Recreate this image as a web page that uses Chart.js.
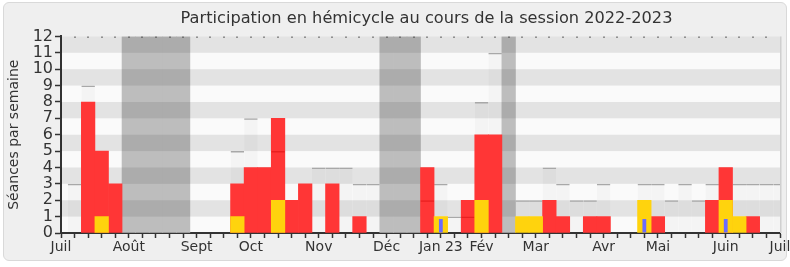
<!DOCTYPE html>
<html>
<head>
<meta charset="utf-8">
<script src="https://cdn.jsdelivr.net/npm/chart.js@4/dist/chart.umd.min.js"></script>
<style>
  html, body { margin: 0; padding: 0; background: #fff; }
  #wrap { position: relative; width: 790px; height: 267px; }
  #frame { position: absolute; left: 3px; top: 2px; width: 782px; height: 257px;
           background: #efefef; border: 1px solid #d9d9d9; border-radius: 6px; }
  canvas { position: absolute; left: 0; top: 0; }
</style>
</head>
<body>
<div id="wrap"><div id="frame"></div><canvas id="chart" width="790" height="267"></canvas></div>
<script>
// semaines 1..53 de la session (juillet 2022 -> juillet 2023)
const seances = [3, 9, 5, 3, 0, 0, 0, 0, 0, 0, 0, 0, 5, 7, 4, 7, 2, 3, 4, 4, 4, 3, 3, 0, 0, 0,
  4, 3, 1, 2, 8, 11, 0, 2, 2, 4, 3, 2, 2, 3, 0, 0, 3, 3, 2, 3, 2, 3, 4, 3, 3, 3, 3];
const presences = [0, 8, 5, 3, 0, 0, 0, 0, 0, 0, 0, 0, 3, 4, 4, 7, 2, 3, 0, 3, 0, 1, 0, 0, 0, 0,
  4, 0, 0, 2, 6, 6, 0, 0, 0, 2, 1, 0, 1, 1, 0, 0, 0, 1, 0, 0, 0, 2, 4, 0, 1, 0, 0];
const presencesDetail = [0, 0, 0, 0, 0, 0, 0, 0, 0, 0, 0, 0, 0, 0, 0, 5, 0, 0, 0, 0, 0, 0, 0, 0, 0, 0,
  2, 0, 0, 1, 0, 0, 0, 0, 0, 0, 0, 0, 0, 0, 0, 0, 0, 0, 0, 0, 0, 0, 0, 0, 0, 0, 0];
const interventions = [0, 0, 1, 0, 0, 0, 0, 0, 0, 0, 0, 0, 1, 0, 0, 2, 0, 0, 0, 0, 0, 0, 0, 0, 0, 0,
  0, 1, 0, 0, 2, 0, 0, 1, 1, 0, 0, 0, 0, 0, 0, 0, 2, 0, 0, 0, 0, 0, 2, 1, 0, 0, 0];
const questions = [0, 0, 0, 0, 0, 0, 0, 0, 0, 0, 0, 0, 0, 0, 0, 0, 0, 0, 0, 0, 0, 0, 0, 0, 0, 0,
  0, 0.85, 0, 0, 0, 0, 0, 0, 0, 0, 0, 0, 0, 0, 0, 0, 0.85, 0, 0, 0, 0, 0, 0.85, 0, 0, 0, 0];
const vacances = [0, 0, 0, 0, 12, 12, 12, 12, 12, 0, 0, 0, 0, 0, 0, 0, 0, 0, 0, 0, 0, 0, 0, 12, 12, 12,
  0, 0, 0, 0, 0, 0, 12, 0, 0, 0, 0, 0, 0, 0, 0, 0, 0, 0, 0, 0, 0, 0, 0, 0, 0, 0, 0];

const monthWeeks = [0, 5, 10, 14, 19, 24, 28, 31, 35, 40, 44, 49, 53];
const monthLabels = ['Juil', 'Août', 'Sept', 'Oct', 'Nov', 'Déc', 'Jan 23', 'Fév', 'Mar', 'Avr', 'Mai', 'Juin', 'Juil'];

const FONT = "'DejaVu Sans', sans-serif";
const TXT = '#333';

const pts = arr => arr.map((v, i) => ({ x: i + 1, y: v ? v : null }));

const barBase = { type: 'bar', grouped: false, barPercentage: 1, categoryPercentage: 1 };

// fond clair, puis bandes grises posées par-dessus les vacances
const backdrop = {
  id: 'backdrop',
  afterLayout(chart) {
    // le titre est un peu décalé vers la droite dans l'original
    const t = chart.titleBlock;
    if (t) { t.left += 6; t.right += 6; }
  },
  beforeDraw(chart) {
    const { ctx, chartArea: a } = chart;
    ctx.save();
    ctx.fillStyle = '#fafafa';
    ctx.fillRect(a.left, a.top, a.width, a.height);
    ctx.restore();
  },
  afterDatasetDraw(chart, args) {
    if (chart.data.datasets[args.index].label !== 'Vacances') return;
    const { ctx, chartArea: a, scales: { y } } = chart;
    ctx.save();
    ctx.fillStyle = 'rgba(0,0,0,0.09)';
    for (let v = 1; v < 12; v += 2) {
      const y1 = y.getPixelForValue(v + 1), y0 = y.getPixelForValue(v);
      ctx.fillRect(a.left, y1, a.width, y0 - y1);
    }
    ctx.restore();
  },
  afterDraw(chart) {
    const { ctx, chartArea: a, scales: { x } } = chart;
    ctx.save();
    ctx.fillStyle = '#d0d0d0';
    ctx.fillRect(a.right, a.top, 1.5, a.height);
    ctx.fillStyle = '#333';
    for (let k = 1; k < 53; k++) {
      ctx.fillRect(Math.round(x.getPixelForValue(k)) - 0.5, a.top, 1, 1.5);
    }
    ctx.restore();
  }
};

new Chart(document.getElementById('chart').getContext('2d'), {
  data: {
    datasets: [
      { ...barBase, label: 'Questions', data: pts(questions), order: 1,
        backgroundColor: '#6b6bff', barPercentage: 0.28 },
      { ...barBase, label: 'Interventions', data: pts(interventions), order: 2,
        backgroundColor: '#ffd30d' },
      { ...barBase, label: 'Présences (détail)', data: pts(presencesDetail), order: 3,
        backgroundColor: 'rgba(0,0,0,0)', borderColor: 'rgba(200,0,0,0.4)', inflateAmount: 0,
        borderWidth: { top: 1.5, left: 0, right: 0, bottom: 0 } },
      { ...barBase, label: 'Présences', data: pts(presences), order: 4,
        backgroundColor: '#ff3636' },
      { ...barBase, label: 'Séances', data: pts(seances), order: 5,
        backgroundColor: 'rgba(0,0,0,0.025)', borderColor: '#a8a8a8', inflateAmount: 0,
        borderWidth: { top: 1.5, left: 0, right: 0, bottom: 0 } },
      { ...barBase, label: 'Vacances', data: pts(vacances), order: 6,
        backgroundColor: '#bdbdbd' }
    ]
  },
  options: {
    responsive: false,
    animation: false,
    devicePixelRatio: 1,
    layout: { padding: { left: 0, right: 10, top: 0, bottom: 4 } },
    plugins: {
      legend: { display: false },
      tooltip: { enabled: false },
      title: {
        display: true,
        fullSize: false,
        text: 'Participation en hémicycle au cours de la session 2022-2023',
        color: TXT,
        font: { family: FONT, size: 16.2, weight: 'normal' },
        padding: { top: 9, bottom: 8 }
      }
    },
    scales: {
      x: {
        type: 'linear',
        min: 0,
        max: 53,
        offset: false,
        afterBuildTicks: s => {
          const t = [];
          for (let k = 0; k <= 53; k++) t.push({ value: k });
          s.ticks = t;
        },
        afterFit: s => { s.height = 30; s.paddingLeft = 0; s.paddingRight = 0; },
        ticks: {
          autoSkip: false,
          maxRotation: 0,
          padding: 1,
          color: TXT,
          font: { family: FONT, size: 14 },
          callback: v => {
            const i = monthWeeks.indexOf(v);
            return i >= 0 ? monthLabels[i] : '';
          }
        },
        grid: { offset: false, drawOnChartArea: false, tickLength: 5, tickColor: '#333', tickWidth: 1.5 },
        border: { color: '#333', width: 2 }
      },
      y: {
        min: 0,
        max: 12,
        afterFit: s => { s.width = 61; },
        ticks: { stepSize: 1, autoSkip: false, padding: 2, color: TXT, font: { family: FONT, size: 16 } },
        grid: { drawOnChartArea: false, tickLength: 6, tickColor: '#333', tickWidth: 1.5 },
        border: { color: '#333', width: 2 },
        title: {
          display: true,
          text: 'Séances par semaine',
          color: TXT,
          font: { family: FONT, size: 14 },
          padding: { top: 6, bottom: 0 }
        }
      }
    }
  },
  plugins: [backdrop]
});
</script>
</body>
</html>
